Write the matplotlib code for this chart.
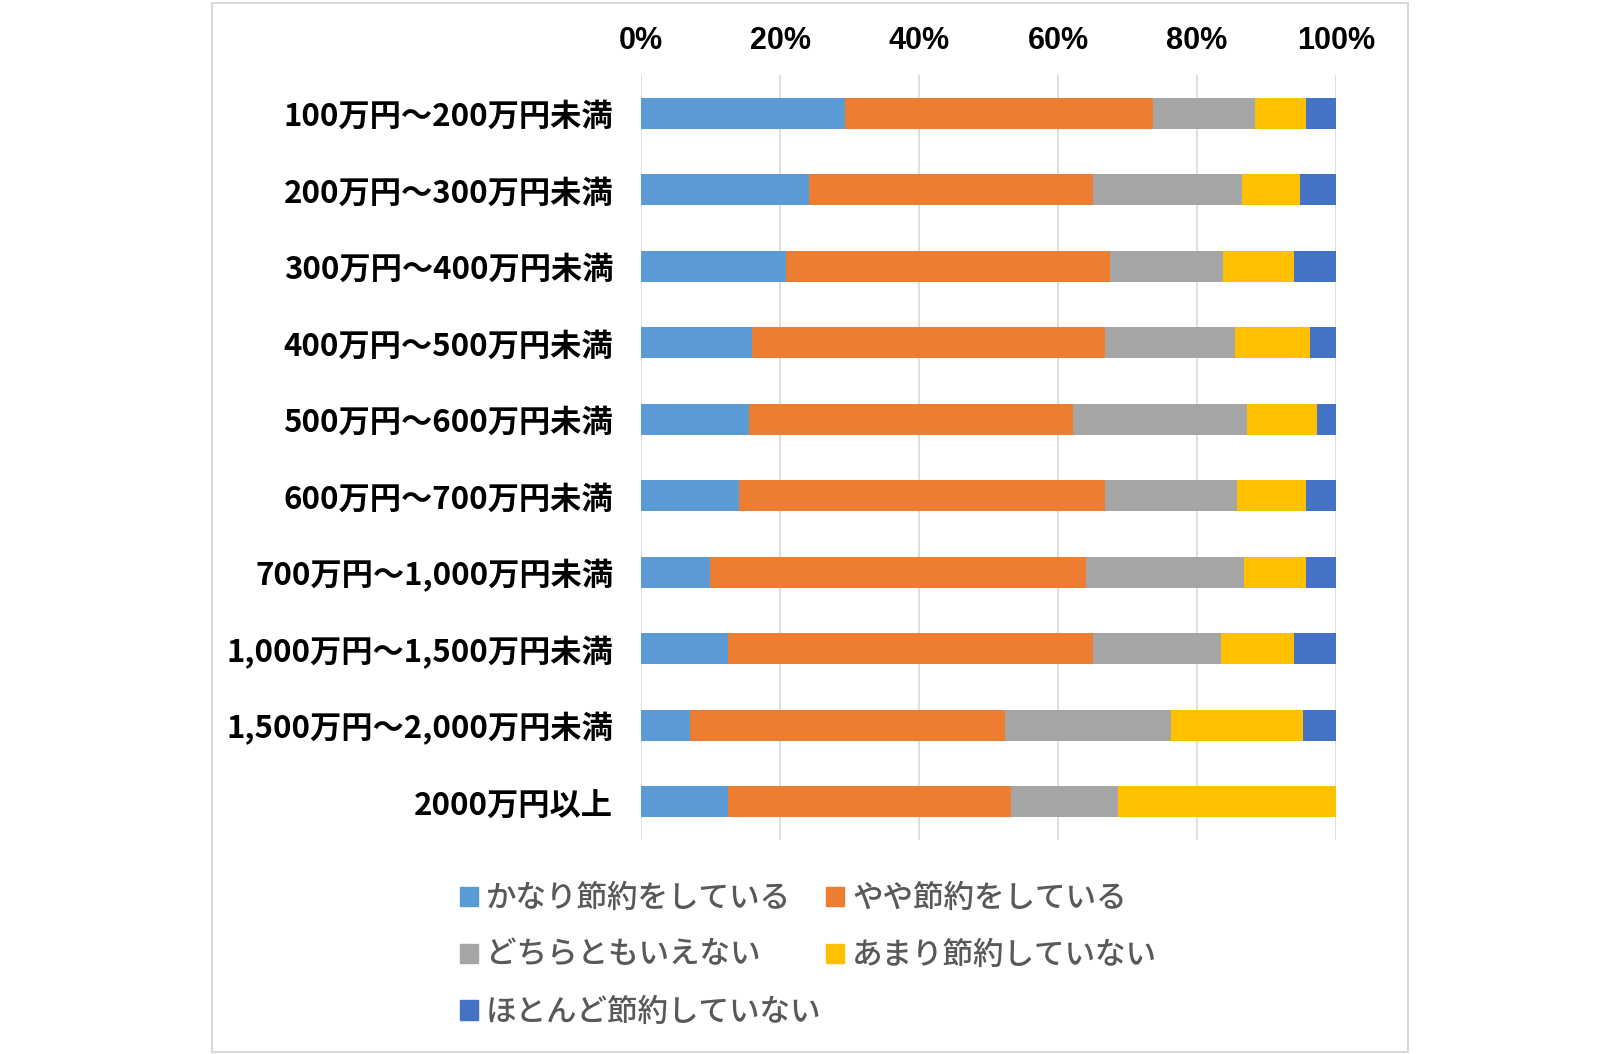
import matplotlib.pyplot as plt
from matplotlib.patches import Rectangle, Patch
import numpy as np

plt.rcParams['font.family'] = ['Noto Sans CJK JP', 'DejaVu Sans']

# 年収区分
categories = ['100万円～200万円未満', '200万円～300万円未満', '300万円～400万円未満',
              '400万円～500万円未満', '500万円～600万円未満', '600万円～700万円未満',
              '700万円～1,000万円未満', '1,000万円～1,500万円未満', '1,500万円～2,000万円未満',
              '2000万円以上']
series_names = ['かなり節約をしている', 'やや節約をしている', 'どちらともいえない',
                'あまり節約していない', 'ほとんど節約していない']

# 割合(%)
kanari = [29.4, 24.2, 20.9, 15.9, 15.6, 14.1, 9.9, 12.5, 7.0, 12.5]
yaya = [44.3, 40.9, 46.6, 50.9, 46.5, 52.6, 54.1, 52.5, 45.4, 40.7]
dochira = [14.7, 21.4, 16.3, 18.6, 25.1, 19.1, 22.7, 18.5, 23.8, 15.5]
amari = [7.3, 8.3, 10.2, 10.9, 10.0, 9.9, 9.0, 10.5, 19.1, 31.3]
hotondo = [4.3, 5.2, 6.0, 3.7, 2.8, 4.3, 4.3, 6.0, 4.7, 0.0]

colors = ['#5B9BD5', '#ED7D31', '#A5A5A5', '#FFC000', '#4472C4']
ticks = [0, 20, 40, 60, 80, 100]

fig = plt.figure(figsize=(16.2, 10.54), dpi=100)
ax = fig.add_axes([0.3957, 0.203, 0.429, 0.7258])

y = np.arange(len(categories))
left = np.zeros(len(categories))
for vals, name, c in zip([kanari, yaya, dochira, amari, hotondo], series_names, colors):
    ax.barh(y, vals, left=left, height=0.4, color=c, label=name, zorder=2)
    left += np.array(vals)

ax.set_xlim(0, 100)
ax.set_ylim(9.5, -0.5)
ax.set_yticks(y)
ax.set_yticklabels(categories, fontsize=22.5, fontweight='bold')
ax.xaxis.tick_top()
ax.set_xticks(ticks)
ax.set_xticklabels([f'{t}%' for t in ticks], fontsize=22, fontweight='bold',
                   family=['Liberation Sans Narrow', 'Liberation Sans'])
ax.tick_params(axis='both', length=0)
ax.tick_params(axis='x', pad=14)
ax.tick_params(axis='y', pad=20)
ax.grid(axis='x', color='#D9D9D9', lw=1.2, zorder=0)
for s in ax.spines.values():
    s.set_visible(False)

# 凡例 (行ごとに並べる)
order = [0, 2, 4, 1, 3]
handles = [Patch(color=colors[i]) for i in order]
fig.legend(handles, [series_names[i] for i in order], ncol=2, frameon=False,
           loc='upper left', bbox_to_anchor=(0.267, 0.188),
           prop={'size': 22, 'weight': 'medium'},
           labelcolor='#595959', handlelength=0.6, handleheight=0.6,
           handletextpad=0.25, columnspacing=0.15, labelspacing=0.84)

fig.patches.append(Rectangle((212 / 1620, 0.002), 1196 / 1620, 0.995,
                             transform=fig.transFigure, fill=False,
                             edgecolor='#D9D9D9', lw=1.5))

fig.savefig('out.png')
